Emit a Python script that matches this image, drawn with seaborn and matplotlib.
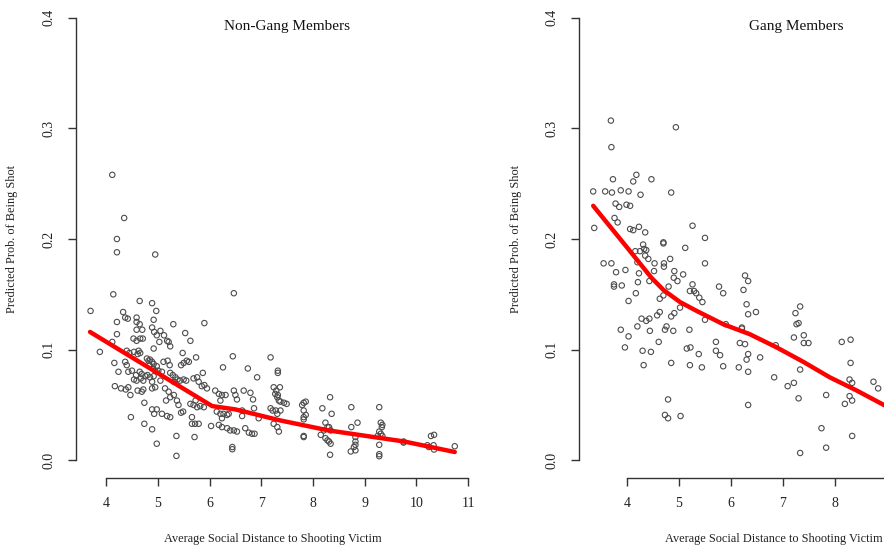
# Predicted probability of being shot vs. social distance (two panels)
#
# python plot.py

import matplotlib
matplotlib.use("Agg")
import matplotlib.pyplot as plt
import seaborn as sns


# Non-gang members: scatter
ng_x = [4.12, 4.35, 4.21, 4.21, 4.95, 4.14, 6.47, 3.70, 4.65, 4.89, 4.97, 4.33, 4.37, 4.42,
        4.59, 4.21, 4.59, 4.65, 4.92, 5.30, 5.90, 4.59, 4.70, 4.89, 4.93, 4.21, 5.05, 5.12,
        4.98, 5.53, 5.63, 4.53, 4.59, 4.66, 4.71, 4.12, 5.18, 5.21, 5.24, 5.03, 4.92,
        3.88, 4.16, 4.24, 4.40, 4.45, 4.54, 4.61, 4.66, 4.63, 4.37, 4.40, 4.43, 4.50, 4.54,
        4.59, 4.67, 4.72, 4.58, 4.65, 4.79, 4.82, 4.85, 4.89, 4.92, 4.84, 4.98, 4.91, 4.95,
        5.01, 4.69, 4.76, 4.80, 4.85, 4.92, 4.17, 4.29, 4.38, 4.43, 4.47, 4.61, 4.69, 4.72,
        4.89, 4.95, 4.89, 4.48, 4.74, 4.89, 4.98, 4.93, 4.74, 4.89, 4.98, 5.08, 5.11, 5.19,
        5.23, 5.05, 5.24, 5.29, 5.34, 5.38, 5.43, 5.50, 5.55, 5.31, 5.14, 5.21, 5.24, 5.16,
        5.31, 5.08, 5.18, 5.24, 5.37, 5.40, 5.45, 5.49, 5.45, 5.50, 5.56, 5.60, 5.74, 5.48,
        5.36, 5.36, 5.69, 5.76, 5.79, 5.85, 5.90, 5.95, 5.87, 5.63, 5.69, 5.76, 5.82, 5.89,
        5.73, 5.66, 5.72, 5.79, 5.66, 5.71, 6.03, 6.11, 6.18, 6.24, 6.31, 6.21, 6.14, 6.21,
        6.27, 6.34, 6.24, 6.37, 6.18, 6.24, 6.34, 6.40, 6.47, 6.53, 6.44, 6.44, 6.45, 6.26,
        6.47, 6.50, 6.53, 6.63, 6.63, 6.69, 6.76, 6.82, 6.87, 6.74, 6.66, 6.79, 6.84, 6.86,
        6.92, 6.95, 7.18, 7.32, 7.32, 7.24, 7.29, 7.32, 7.34, 7.18, 7.28, 7.31, 7.24, 7.31,
        7.34, 7.36, 7.27, 7.31, 7.37, 7.44, 7.49, 7.22, 7.37, 7.82, 7.86, 7.79, 7.82, 7.82,
        7.82, 7.86, 7.82, 7.82, 8.18, 8.33, 8.36, 8.24, 8.28, 8.31, 8.34, 8.21, 8.24, 8.31,
        8.34, 8.28, 8.15, 8.33, 8.74, 8.86, 8.74, 8.82, 8.82, 8.82, 8.79, 8.73, 8.82, 9.28,
        9.31, 9.34, 9.33, 9.28, 9.31, 9.25, 9.34, 9.28, 9.28, 9.28, 9.75, 9.75, 10.21, 10.24,
        10.33, 10.34, 10.28, 10.34, 10.74]
ng_y = [0.258, 0.219, 0.200, 0.188, 0.186, 0.150, 0.151, 0.135, 0.144, 0.142, 0.135, 0.134,
        0.129, 0.128, 0.129, 0.125, 0.125, 0.123, 0.127, 0.123, 0.124, 0.118, 0.118, 0.120,
        0.116, 0.114, 0.117, 0.113, 0.113, 0.115, 0.108, 0.110, 0.108, 0.110, 0.110, 0.107,
        0.108, 0.107, 0.103, 0.107, 0.101,
        0.098, 0.088, 0.080, 0.099, 0.097, 0.098, 0.096, 0.097, 0.099, 0.089, 0.086, 0.080,
        0.081, 0.073, 0.072, 0.074, 0.072, 0.077, 0.080, 0.092, 0.090, 0.091, 0.089, 0.087,
        0.086, 0.085, 0.083, 0.081, 0.081, 0.078, 0.076, 0.077, 0.075, 0.076, 0.067, 0.065,
        0.064, 0.066, 0.059, 0.063, 0.062, 0.064, 0.065, 0.066, 0.071, 0.039, 0.052, 0.046,
        0.046, 0.042, 0.033, 0.028, 0.015, 0.080, 0.089, 0.090, 0.086, 0.072, 0.079, 0.077,
        0.075, 0.073, 0.072, 0.073, 0.072, 0.071, 0.065, 0.062, 0.057, 0.054, 0.059, 0.042,
        0.040, 0.039, 0.054, 0.050, 0.043, 0.044, 0.086, 0.088, 0.090, 0.089, 0.093, 0.097,
        0.022, 0.004, 0.074, 0.075, 0.071, 0.067, 0.068, 0.065, 0.079, 0.051, 0.050, 0.048,
        0.049, 0.048, 0.054, 0.033, 0.033, 0.033, 0.039, 0.021, 0.031, 0.063, 0.060, 0.059,
        0.059, 0.054, 0.044, 0.042, 0.042, 0.041, 0.038, 0.042, 0.032, 0.030, 0.029, 0.027,
        0.027, 0.026, 0.012, 0.010, 0.094, 0.084, 0.063, 0.059, 0.055, 0.045, 0.040, 0.029,
        0.025, 0.024, 0.024, 0.083, 0.063, 0.061, 0.055, 0.047, 0.075, 0.038, 0.093, 0.081,
        0.079, 0.066, 0.063, 0.059, 0.054, 0.047, 0.045, 0.042, 0.033, 0.030, 0.026, 0.066,
        0.060, 0.057, 0.053, 0.052, 0.051, 0.045, 0.045, 0.052, 0.053, 0.050, 0.045, 0.039,
        0.037, 0.041, 0.022, 0.021, 0.047, 0.057, 0.042, 0.034, 0.030, 0.030, 0.027, 0.027,
        0.020, 0.017, 0.015, 0.018, 0.023, 0.005, 0.048, 0.034, 0.030, 0.021, 0.017, 0.014,
        0.012, 0.008, 0.009, 0.048, 0.034, 0.032, 0.030, 0.026, 0.024, 0.022, 0.022, 0.014,
        0.0055, 0.0037, 0.017, 0.016, 0.0136, 0.012, 0.0136, 0.0097, 0.022, 0.023, 0.0127]

# Non-gang members: smoothed fit
ng_fit_x = [3.69, 6.05, 6.50, 7.37, 8.30, 9.76, 10.74]
ng_fit_y = [0.116, 0.049, 0.046, 0.036, 0.027, 0.017, 0.0075]

# Gang members: scatter
g_x = [3.69, 4.94, 3.70, 4.18, 4.12, 3.73, 4.47, 3.35, 3.58, 3.71, 3.88, 4.03, 4.26, 4.85,
       3.78, 3.85, 3.99, 4.06, 3.37, 3.76, 3.82, 4.06, 4.12, 4.23, 4.35, 5.26, 5.50, 4.70,
       4.70, 4.31, 4.33, 4.25, 4.37, 5.12, 4.16, 4.35, 4.41, 4.20, 4.53, 4.83, 4.71, 4.71,
       5.50, 3.55, 3.70, 3.79, 3.97, 4.23, 4.52, 4.91, 5.08, 4.90, 4.97, 3.75, 3.75, 3.90,
       4.21, 4.43, 4.80, 5.26, 5.21, 5.29, 5.33, 5.39, 5.45, 5.77, 5.85, 6.27, 6.33, 6.24,
       6.30, 4.17, 4.03, 4.63, 4.70, 6.33,
       3.88, 4.03, 3.96, 4.20, 4.28, 4.37, 4.43, 4.58, 4.63, 4.85, 4.91, 5.02, 4.44, 4.61,
       4.30, 4.46, 4.32, 4.73, 4.76, 4.89, 4.85, 4.79, 4.73, 4.79, 5.03, 5.20, 5.15, 5.22,
       5.38, 5.21, 5.44, 5.50, 5.71, 5.71, 5.79, 5.85, 5.90, 6.21, 6.21, 6.17, 6.27, 6.33,
       6.30, 6.15, 6.33, 6.33, 6.48, 6.56, 6.83, 6.86, 7.09, 7.21, 7.21, 7.30, 7.33, 7.40,
       7.40, 7.49, 7.24, 7.33, 7.30, 7.26, 7.33, 7.74, 7.83, 7.83, 8.13, 8.30, 8.30, 8.28,
       8.33, 8.28, 8.33, 8.19, 8.33, 8.74, 8.83]
g_y = [0.307, 0.301, 0.283, 0.258, 0.252, 0.254, 0.254, 0.243, 0.243, 0.242, 0.244, 0.243,
       0.240, 0.242, 0.232, 0.229, 0.231, 0.230, 0.210, 0.219, 0.215, 0.209, 0.208, 0.211,
       0.206, 0.212, 0.201, 0.197, 0.196, 0.195, 0.191, 0.189, 0.190, 0.192, 0.189, 0.185,
       0.182, 0.179, 0.178, 0.182, 0.178, 0.175, 0.178, 0.178, 0.178, 0.170, 0.172, 0.169,
       0.171, 0.171, 0.168, 0.165, 0.162, 0.159, 0.157, 0.158, 0.161, 0.162, 0.157, 0.159,
       0.153, 0.153, 0.151, 0.147, 0.143, 0.157, 0.151, 0.167, 0.162, 0.154, 0.141, 0.151,
       0.144, 0.146, 0.149, 0.132,
       0.118, 0.112, 0.102, 0.121, 0.128, 0.126, 0.128, 0.131, 0.134, 0.130, 0.133, 0.138,
       0.117, 0.107, 0.099, 0.098, 0.086, 0.118, 0.121, 0.117, 0.088, 0.055, 0.041, 0.038,
       0.040, 0.118, 0.101, 0.102, 0.096, 0.086, 0.084, 0.127, 0.107, 0.099, 0.095, 0.085,
       0.123, 0.120, 0.119, 0.106, 0.105, 0.096, 0.091, 0.084, 0.080, 0.050, 0.134, 0.093,
       0.075, 0.104, 0.067, 0.070, 0.111, 0.056, 0.082, 0.113, 0.106, 0.106, 0.133, 0.139,
       0.124, 0.123, 0.0066, 0.029, 0.0114, 0.059, 0.107, 0.109, 0.088, 0.073, 0.070, 0.058,
       0.054, 0.051, 0.022, 0.071, 0.065]

# Gang members: smoothed fit
g_fit_x = [3.35, 3.99, 4.47, 4.70, 5.02, 5.34, 5.85, 6.36, 6.88, 7.39, 7.90, 8.42, 8.94, 9.20]
g_fit_y = [0.230, 0.193, 0.165, 0.154, 0.143, 0.135, 0.123, 0.114, 0.102, 0.089, 0.075,
           0.063, 0.050, 0.044]

ng_xticks = [4, 5, 6, 7, 8, 9, 10, 11]
ng_xtick_labels = ["4", "5", "6", "7", "8", "9", "10", "11"]
# the right panel runs past the picture's edge: ticks 9 and 10 fall outside it
g_xticks = [4, 5, 6, 7, 8, 9, 10]
g_xtick_labels = ["4", "5", "6", "7", "8", "", ""]
y_ticks = [0.0, 0.1, 0.2, 0.3, 0.4]
y_tick_labels = ["0.0", "0.1", "0.2", "0.3", "0.4"]
x_label = "Average Social Distance to Shooting Victim"
y_label = "Predicted Prob. of Being Shot"

AXIS_COLOR = "#333333"
POINT_COLOR = "#4d4d4d"


def panel(ax, xs, ys, fit_x, fit_y, title, title_x, xlim, xticks, xtick_labels):
    """
    One scatter panel with its smoothed line, drawn in an R base-graphics look.
    """
    sns.scatterplot(x=xs, y=ys, ax=ax, marker="o", s=15, facecolor="none",
                    edgecolor=POINT_COLOR, linewidth=0.8, zorder=2)
    sns.lineplot(x=fit_x, y=fit_y, ax=ax, color="red", linewidth=3.2,
                 sort=False, estimator=None, zorder=3)

    ax.set_xlim(*xlim)
    ax.set_ylim(-0.016, 0.416)
    ax.set_xticks(xticks)
    ax.set_xticklabels(xtick_labels)
    ax.set_yticks(y_ticks)
    ax.set_yticklabels(y_tick_labels)

    for side in ["top", "right"]:
        ax.spines[side].set_visible(False)
    ax.spines["left"].set_bounds(0.0, 0.4)
    ax.spines["bottom"].set_bounds(xticks[0], xticks[-1])
    for side in ["left", "bottom"]:
        ax.spines[side].set_color(AXIS_COLOR)
        ax.spines[side].set_linewidth(1.0)

    ax.tick_params(axis="both", direction="out", length=5.5, width=1.0,
                   color=AXIS_COLOR, labelsize=10, labelcolor="#222222")
    ax.tick_params(axis="x", pad=8)
    ax.tick_params(axis="y", pad=9.5, labelrotation=90)
    for lbl in ax.get_yticklabels():
        lbl.set_va("center")

    ax.set_xlabel(x_label, fontsize=8.8, color="#222222")
    ax.set_ylabel(y_label, fontsize=8.8, color="#222222")
    ax.xaxis.set_label_coords(0.5, -0.115)
    ax.xaxis.label.set_va("top")
    ax.yaxis.set_label_coords(-0.162, 0.5)
    ax.yaxis.label.set_va("center")

    ax.text(title_x, 0.392, title, ha="center", va="center", fontsize=11, color="#111111")
    ax.grid(False)


if __name__ == "__main__":
    sns.set_style("ticks")
    plt.rcParams["font.family"] = ["Liberation Serif", "DejaVu Serif"]

    fig = plt.figure(figsize=(8.84, 5.46), dpi=100)
    ax1 = fig.add_axes([76 / 884, 1 - 478 / 546, 393 / 884, 478 / 546])
    ax2 = fig.add_axes([579 / 884, 1 - 478 / 546, 389 / 884, 478 / 546])

    panel(ax1, ng_x, ng_y, ng_fit_x, ng_fit_y, "Non-Gang Members", 7.5,
          (3.419, 11.015), ng_xticks, ng_xtick_labels)
    panel(ax2, g_x, g_y, g_fit_x, g_fit_y, "Gang Members", 7.25,
          (3.077, 10.558), g_xticks, g_xtick_labels)

    plt.savefig("out.png", dpi=100)
